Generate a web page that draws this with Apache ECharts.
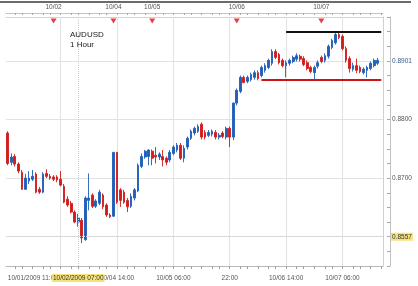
<!DOCTYPE html>
<html>
<head>
<meta charset="utf-8">
<script src="https://cdn.jsdelivr.net/npm/echarts@6/dist/echarts.min.js"></script>
<style>
html,body{margin:0;padding:0;background:#fff;}
#c{width:418px;height:286px;}
</style>
</head>
<body>
<div id="c"></div>
<script>
// ---- data ----
const sessionStarts = [['10/01', 11, 30], ['10/04', 13, 76]];
const dayNames = ['10/01','10/02','10/03','10/04','10/05','10/06','10/07','10/08'];

const opens = [0.8777,0.8727,0.8737,0.8724,0.8710,0.8681,0.8695,0.8698,0.8707,0.8681,
0.8676,0.8708,0.8703,0.8702,0.8702,0.8698,0.8686,0.8664,0.8657,0.8642,
0.8625,0.8628,0.8595,0.8662,0.8671,0.8652,0.8657,0.8671,0.8654,0.8637,
0.8635,0.8744,0.8680,0.8676,0.8662,0.8652,0.8666,0.8678,0.8720,0.8736,
0.8737,0.8746,0.8739,0.8736,0.8737,0.8734,0.8731,0.8742,0.8748,0.8756,
0.8734,0.8753,0.8768,0.8777,0.8780,0.8792,0.8778,0.8773,0.8775,0.8778,
0.8770,0.8777,0.8770,0.8785,0.8770,0.8828,0.8848,0.8872,0.8865,0.8868,
0.8872,0.8880,0.8875,0.8884,0.8889,0.8896,0.8916,0.8911,0.8901,0.8892,
0.8896,0.8899,0.8903,0.8908,0.8904,0.8897,0.8889,0.8880,0.8891,0.8906,
0.8901,0.8908,0.8923,0.8931,0.8945,0.8942,0.8921,0.8904,0.8886,0.8892,
0.8889,0.8880,0.8884,0.8887,0.8892,0.8896];

const closes = [0.8725,0.8736,0.8724,0.8712,0.8681,0.8700,0.8700,0.8703,0.8676,0.8676,
0.8707,0.8703,0.8700,0.8698,0.8697,0.8688,0.8659,0.8654,0.8642,0.8625,
0.8632,0.8598,0.8666,0.8666,0.8652,0.8661,0.8676,0.8651,0.8637,0.8634,
0.8744,0.8659,0.8662,0.8659,0.8651,0.8669,0.8680,0.8722,0.8737,0.8746,
0.8748,0.8734,0.8736,0.8741,0.8731,0.8727,0.8744,0.8753,0.8756,0.8734,
0.8751,0.8768,0.8780,0.8785,0.8788,0.8770,0.8770,0.8778,0.8780,0.8770,
0.8773,0.8771,0.8785,0.8770,0.8828,0.8850,0.8872,0.8863,0.8872,0.8877,
0.8880,0.8870,0.8889,0.8892,0.8901,0.8916,0.8906,0.8897,0.8892,0.8897,
0.8901,0.8906,0.8909,0.8903,0.8894,0.8887,0.8882,0.8889,0.8897,0.8899,
0.8909,0.8925,0.8935,0.8945,0.8940,0.8921,0.8901,0.8887,0.8892,0.8884,
0.8882,0.8886,0.8889,0.8896,0.8901,0.8901];

const lows = [0.8722,0.8722,0.8720,0.8708,0.8680,0.8680,0.8690,0.8695,0.8674,0.8673,
0.8674,0.8700,0.8697,0.8695,0.8693,0.8686,0.8657,0.8651,0.8640,0.8623,
0.8617,0.8589,0.8593,0.8645,0.8649,0.8649,0.8654,0.8647,0.8634,0.8632,
0.8634,0.8656,0.8651,0.8656,0.8642,0.8649,0.8662,0.8676,0.8717,0.8733,
0.8722,0.8722,0.8725,0.8731,0.8720,0.8722,0.8727,0.8739,0.8744,0.8731,
0.8727,0.8749,0.8765,0.8773,0.8777,0.8766,0.8766,0.8770,0.8771,0.8766,
0.8766,0.8768,0.8766,0.8753,0.8765,0.8824,0.8845,0.8862,0.8862,0.8865,
0.8868,0.8867,0.8872,0.8880,0.8886,0.8892,0.8903,0.8894,0.8889,0.8872,
0.8892,0.8896,0.8899,0.8899,0.8891,0.8884,0.8879,0.8868,0.8887,0.8896,
0.8897,0.8904,0.8920,0.8928,0.8937,0.8918,0.8897,0.8880,0.8882,0.8879,
0.8879,0.8877,0.8872,0.8884,0.8889,0.8893];

const highs = [0.8780,0.8742,0.8741,0.8727,0.8714,0.8707,0.8712,0.8714,0.8710,0.8685,
0.8710,0.8715,0.8707,0.8705,0.8705,0.8712,0.8690,0.8669,0.8661,0.8645,
0.8639,0.8632,0.8669,0.8708,0.8674,0.8664,0.8680,0.8674,0.8657,0.8640,
0.8744,0.8744,0.8683,0.8680,0.8666,0.8674,0.8683,0.8725,0.8742,0.8748,
0.8749,0.8749,0.8753,0.8744,0.8748,0.8737,0.8748,0.8756,0.8760,0.8760,
0.8756,0.8771,0.8783,0.8788,0.8792,0.8795,0.8782,0.8782,0.8783,0.8782,
0.8777,0.8780,0.8788,0.8788,0.8829,0.8853,0.8875,0.8875,0.8875,0.8880,
0.8884,0.8884,0.8892,0.8896,0.8904,0.8920,0.8920,0.8914,0.8904,0.8901,
0.8904,0.8909,0.8913,0.8911,0.8908,0.8901,0.8892,0.8892,0.8901,0.8909,
0.8913,0.8928,0.8938,0.8950,0.8949,0.8945,0.8925,0.8908,0.8897,0.8904,
0.8892,0.8889,0.8892,0.8899,0.8904,0.8905];

const bottomLabelIdx = [0, 31, 47, 63, 79, 95];
const bottomLabelText = ['10/01/2009 11:00', '10/04 14:00', '10/05 06:00', '22:00', '10/06 14:00', '10/07 06:00'];
const topLabelIdx = [13, 30, 41, 65, 89];
const topLabelText = ['10/02', '10/04', '10/05', '10/06', '10/07'];
const vGridIdx = [15, 31, 47, 63, 79, 95];
const hGridValues = [0.86, 0.87, 0.88, 0.89];
const yTickValues = [0.86, 0.87, 0.88];
const yTickLabels = ['0.8600', '0.8700', '0.8800'];
const lastPrice = 0.8901;
const crossIdx = 20;
const crossTimeLabel = '10/02/2009 07:00';
const crossPrice = 0.8557;
const resistance = { from: 79, to: 106, value: 0.8950 };
const support = { from: 72, to: 106, value: 0.8868 };
const instrument = 'AUDUSD';
const period = '1 Hour';

// ---- build ----
function buildHours() {
  const out = [];
  sessionStarts.forEach(([d, h, n]) => {
    let di = dayNames.indexOf(d), hr = h;
    for (let k = 0; k < n; k++) {
      out.push(dayNames[di] + ' ' + String(hr).padStart(2, '0') + ':00');
      hr++;
      if (hr === 24) { hr = 0; di++; }
    }
  });
  out.push('');
  return out;
}
const categories = buildHours();
const ohlc = opens.map((o, i) => [o, closes[i], lows[i], highs[i]]);
const dayMarks = topLabelIdx.map(i => [i, 1]);

const FONT = 'Liberation Sans';
const UP = '#1f5fb8', DOWN = '#d11c1c';
const tickPattern = [0, 3, 5, 8, 11, 13];
const tickShow = (index) => tickPattern.includes((((index - 15) % 16) + 16) % 16);

const chart = echarts.init(document.getElementById('c'), null, { renderer: 'canvas' });
chart.setOption({
  animation: false,
  backgroundColor: '#fff',
  title: {
    text: instrument + '\n' + period,
    left: 70, top: 30, padding: 0,
    textStyle: { fontFamily: FONT, fontSize: 8, fontWeight: 'normal', color: '#1a1a1a', lineHeight: 10 }
  },
  graphic: [{
    type: 'line', shape: { x1: 0, y1: 2, x2: 411, y2: 2 },
    style: { stroke: '#3a3a3a', lineWidth: 1.5 }, silent: true
  }],
  grid: { left: 6, right: 35, top: 17, bottom: 20, containLabel: false, outerBoundsMode: 'none' },
  xAxis: [{
    type: 'category', data: categories, position: 'bottom', boundaryGap: true,
    axisLine: { show: true, lineStyle: { color: '#b8b8b8' } },
    axisTick: { show: true, alignWithLabel: true, length: 3, interval: tickShow, lineStyle: { color: '#a0a0a0' } },
    axisLabel: {
      show: true, interval: (i) => bottomLabelIdx.includes(i), margin: 9,
      fontFamily: FONT, fontSize: 6.5, color: '#555', alignMinLabel: 'left',
      formatter: (v, i) => { const k = bottomLabelIdx.indexOf(i); return k >= 0 ? bottomLabelText[k] : ''; }
    },
    splitLine: { show: false }
  }, {
    type: 'category', data: categories, position: 'top', offset: 4, boundaryGap: true,
    axisLine: { show: true, lineStyle: { color: '#c4c4c4' } },
    axisTick: { show: true, alignWithLabel: true, length: 2, inside: true, interval: tickShow, lineStyle: { color: '#a8a8a8' } },
    axisLabel: {
      show: true, interval: (i) => topLabelIdx.includes(i), margin: 2,
      fontFamily: FONT, fontSize: 6.5, color: '#555',
      formatter: (v, i) => { const k = topLabelIdx.indexOf(i); return k >= 0 ? topLabelText[k] : ''; }
    },
    splitLine: { show: false }
  }, {
    type: 'category', data: categories, position: 'top', offset: 0,
    axisLine: { show: true, lineStyle: { color: '#d4d4d4' } },
    axisTick: { show: false }, axisLabel: { show: false }, splitLine: { show: false }
  }],
  yAxis: [{
    type: 'value', position: 'right', offset: 7, min: 0.855, max: 0.8975, interval: 0.0025,
    axisLine: { show: true, lineStyle: { color: '#c0c0c0' } },
    axisTick: { show: true, inside: true, length: 3, lineStyle: { color: '#a8a8a8' } },
    axisLabel: {
      show: true, margin: 2, fontFamily: FONT, fontSize: 6.5, color: '#555', align: 'left',
      formatter: (v) => { const k = yTickValues.findIndex(t => Math.abs(t - v) < 1e-7); return k >= 0 ? yTickLabels[k] : ''; }
    },
    splitLine: { show: false }
  }, {
    type: 'value', position: 'right', offset: 0, min: 0.855, max: 0.8975, interval: 0.0025,
    axisLine: { show: true, lineStyle: { color: '#d0d0d0' } },
    axisTick: { show: false }, axisLabel: { show: false }, splitLine: { show: false }
  }, {
    type: 'value', show: false, min: 0, max: 1
  }],
  series: [{
    type: 'candlestick', name: instrument, z: 2,
    xAxisIndex: 0, yAxisIndex: 0,
    data: ohlc, barWidth: 2.2,
    itemStyle: { color: UP, color0: DOWN, borderColor: UP, borderColor0: DOWN, borderWidth: 0.9 },
    markLine: {
      z: 1, silent: true, symbol: ['none', 'none'], animation: false,
      label: { show: false },
      lineStyle: { color: '#e2e2e2', width: 1, type: 'solid' },
      emphasis: { disabled: true },
      data: hGridValues.map(v => ({ yAxis: v })).concat(vGridIdx.map(i => ({ xAxis: i })))
    }
  }, {
    type: 'line', name: 'overlay', data: [], z: 5, xAxisIndex: 0, yAxisIndex: 0,
    markLine: {
      silent: true, symbol: ['none', 'none'], animation: false,
      emphasis: { disabled: true },
      data: [
        [{ coord: [resistance.from, resistance.value] }, { coord: [resistance.to, resistance.value], lineStyle: { color: '#111', width: 2.2, type: 'solid' }, label: { show: false } }],
        [{ coord: [support.from, support.value] }, { coord: [support.to, support.value], lineStyle: { color: '#cc1414', width: 2.2, type: 'solid' }, label: { show: false } }],
        { xAxis: crossIdx, lineStyle: { color: '#cfcfcf', width: 1, type: 'dotted' },
          label: { show: true, position: 'start', distance: 8, formatter: crossTimeLabel, fontFamily: FONT, fontSize: 6.5, color: '#333', backgroundColor: '#f6e27c', padding: [1, 1, 0, 1] } },
        { yAxis: crossPrice, lineStyle: { color: '#cfcfcf', width: 1, type: 'dotted' },
          label: { show: true, position: 'end', distance: 8, formatter: crossPrice.toFixed(4), fontFamily: FONT, fontSize: 6.5, color: '#333', backgroundColor: '#f6e27c', padding: [1, 1, 0, 1] } },
        { yAxis: lastPrice, lineStyle: { color: 'rgba(255,255,255,0)', width: 0.01 },
          label: { show: true, position: 'end', distance: 9, formatter: lastPrice.toFixed(4), fontFamily: FONT, fontSize: 6.5, color: '#34578a' } }
      ]
    }
  }, {
    type: 'scatter', name: 'days', xAxisIndex: 0, yAxisIndex: 2, z: 6, clip: false,
    data: dayMarks, symbol: 'triangle', symbolRotate: 180, symbolSize: [6, 5], symbolOffset: [0, 4],
    itemStyle: { color: '#e01010' }, silent: true
  }]
});
</script>
</body>
</html>
